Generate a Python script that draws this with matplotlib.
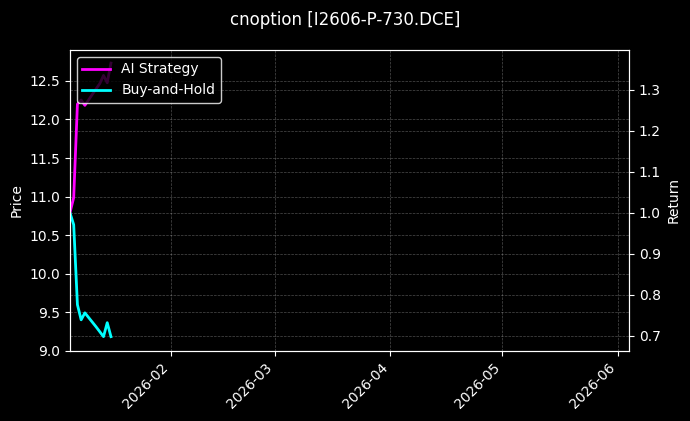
#!/usr/bin/env python3
"""Strategy vs buy-and-hold return chart for one option contract."""
import matplotlib
matplotlib.use('Agg')
import matplotlib.pyplot as plt
import matplotlib.dates as mdates
import pandas as pd

plt.style.use('dark_background')

dates = pd.to_datetime(['2026-01-05', '2026-01-06', '2026-01-07', '2026-01-08',
                        '2026-01-09', '2026-01-12', '2026-01-13', '2026-01-14',
                        '2026-01-15', '2026-01-16'])
ai_return = [1.000, 1.037, 1.265, 1.275, 1.262, 1.302, 1.315, 1.335, 1.317, 1.365]
bh_return = [1.000, 0.971, 0.776, 0.739, 0.756, 0.722, 0.710, 0.698, 0.732, 0.698]

price_lim = (9.0, 12.9)
return_lim = (0.663, 1.397)
date_lim = pd.to_datetime(['2026-01-05', '2026-06-04'])

fig = plt.figure(figsize=(6.9, 4.21), dpi=100)
ax1 = fig.add_axes([0.1014, 0.1663, 0.8102, 0.7150])
ax1.set_ylabel('Price')
ax1.set_ylim(*price_lim)
ax1.set_xlim(date_lim[0], date_lim[1])
ax1.grid(True, linestyle='--', linewidth=0.5, alpha=0.3)

ax2 = ax1.twinx()
ax2.plot(dates, ai_return, color='magenta', linewidth=2, label='AI Strategy')
ax2.plot(dates, bh_return, color='cyan', linewidth=2, label='Buy-and-Hold')
ax2.set_ylabel('Return')
ax2.set_ylim(*return_lim)
ax2.grid(True, linestyle='--', linewidth=0.5, alpha=0.3)
ax2.legend(loc='upper left', framealpha=0.8, facecolor='black', edgecolor='white')

ax1.xaxis.set_major_locator(mdates.MonthLocator())
ax1.xaxis.set_major_formatter(mdates.DateFormatter('%Y-%m'))
plt.setp(ax1.get_xticklabels(), rotation=45, ha='right')

fig.suptitle('cnoption [I2606-P-730.DCE]', y=0.975)

fig.savefig('out.png', dpi=100, facecolor='black')
plt.close(fig)
